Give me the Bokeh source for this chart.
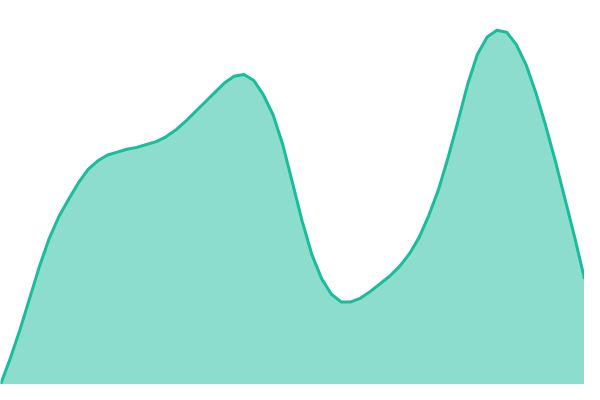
from bokeh.plotting import figure
from bokeh.models import Range1d, ColumnDataSource
from bokeh.embed import file_html
from bokeh.resources import INLINE

# values every 10 units along x
xs = list(range(0, 601, 10))
vals = [0, 27, 57, 90, 123, 152, 175, 193, 210, 224,
        233, 239, 242, 245, 247, 250, 253, 258, 265, 274,
        284, 294, 304, 314, 321, 323, 317, 302, 281, 250,
        210, 170, 135, 110, 94, 86, 86, 90, 97, 105,
        113, 123, 136, 153, 176, 203, 237, 274, 313, 344,
        362, 369, 367, 354, 333, 304, 270, 233, 193, 153,
        110]

src = ColumnDataSource(dict(x=xs, y=vals, y0=[0] * len(xs)))

p = figure(width=584, height=384, output_backend="svg", toolbar_location=None,
           x_range=Range1d(0, 600), y_range=Range1d(0, 400),
           min_border=0, min_border_left=0, min_border_right=0,
           min_border_top=0, min_border_bottom=0)
p.axis.visible = False
p.grid.visible = False
p.outline_line_color = None
p.background_fill_color = "white"
p.border_fill_color = "white"

p.varea(x="x", y1="y0", y2="y", source=src, fill_color="#1abc9c", fill_alpha=0.5)
p.line(x="x", y="y", source=src, line_color="#1abc9c", line_width=3,
       line_join="round")

open("out.html", "w").write(file_html(p, INLINE))
